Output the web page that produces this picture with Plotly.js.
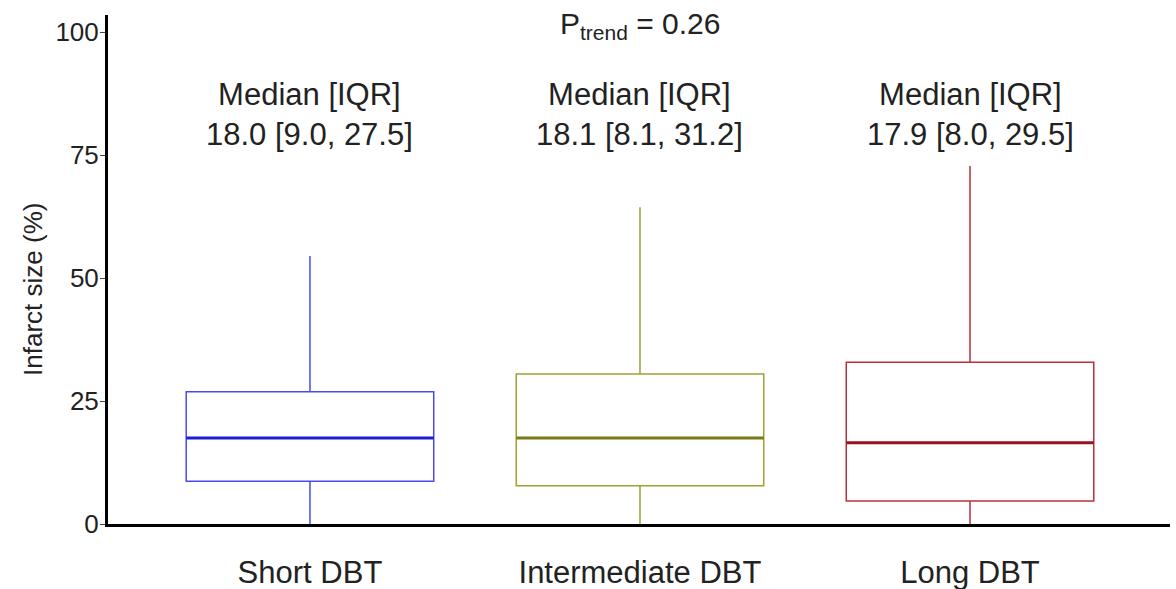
<!DOCTYPE html>
<html><head><meta charset="utf-8">
<script src="https://cdn.plot.ly/plotly-3.0.1.min.js"></script>
<style>html,body{margin:0;padding:0;background:#fff}#chart{width:1176px;height:589px}</style>
</head><body><div id="chart"></div>
<script>
const categories = ["Short DBT", "Intermediate DBT", "Long DBT"];
const q1Values = [8.7, 7.8, 4.7];
const medianValues = [17.5, 17.5, 16.5];
const q3Values = [26.9, 30.5, 32.9];
const lowerWhisker = [0, 0, 0];
const upperWhisker = [54.5, 64.4, 72.8];
const labelTexts = ["18.0 [9.0, 27.5]", "18.1 [8.1, 31.2]", "17.9 [8.0, 29.5]"];
const boxColors = ["#4a4af0", "#a0a032", "#b8303c"];
const medianColors = ["#1e1ed2", "#7a7a14", "#9a1420"];
const pTrend = "0.26";
const yTicks = [0, 25, 50, 75, 100];
const yTitle = "Infarct size (%)";

const boxWidth = 0.75;
const traces = [];
categories.forEach((c, i) => {
  traces.push({
    type: 'box', x: [i], q1: [q1Values[i]], median: [medianValues[i]], q3: [q3Values[i]],
    lowerfence: [lowerWhisker[i]], upperfence: [upperWhisker[i]],
    width: boxWidth, fillcolor: 'rgba(0,0,0,0)',
    line: {color: boxColors[i], width: 1.5}, whiskerwidth: 0,
    boxpoints: false, showlegend: false, hoverinfo: 'skip'
  });
  traces.push({
    type: 'scatter', mode: 'lines',
    x: [i - boxWidth / 2, i + boxWidth / 2], y: [medianValues[i], medianValues[i]],
    line: {color: medianColors[i], width: 3}, showlegend: false, hoverinfo: 'skip'
  });
});

const annotations = categories.map((c, i) => ({
  x: i, y: 83.3, xref: 'x', yref: 'y', yanchor: 'middle', text: 'Median [IQR]<br>' + labelTexts[i],
  showarrow: false, font: {size: 31, color: '#222'}, align: 'center'
}));
annotations.push({
  x: 1, y: 101.3, xref: 'x', yref: 'y', yanchor: 'middle',
  text: 'P<sub>trend</sub> = ' + pTrend, showarrow: false,
  font: {size: 30, color: '#222'}
});
annotations.push({
  x: -0.0706, y: 47.6, xref: 'paper', yref: 'y', xanchor: 'center', yanchor: 'middle',
  text: yTitle, textangle: -90, showarrow: false, font: {size: 26, color: '#222'}
});

const layout = {
  width: 1176, height: 589,
  margin: {l: 108, r: 6, t: 15, b: 65},
  paper_bgcolor: '#fff', plot_bgcolor: '#fff',
  font: {family: '"Liberation Sans", Arial, sans-serif', color: '#222'},
  xaxis: {
    range: [-0.612, 2.606], tickvals: [0, 1, 2], ticktext: categories,
    showgrid: false, zeroline: false, showline: true, linecolor: '#000', linewidth: 3,
    ticks: '', tickfont: {size: 31}, ticklabelstandoff: 19
  },
  yaxis: {
    range: [0, 103.5], tickvals: yTicks, showgrid: false, zeroline: false,
    showline: true, linecolor: '#000', linewidth: 3, ticks: 'outside', ticklen: 5,
    tickcolor: '#444', tickfont: {size: 26}, ticklabelstandoff: -4
  },
  annotations: annotations
};
Plotly.newPlot('chart', traces, layout, {displayModeBar: false, staticPlot: true});
</script></body></html>
